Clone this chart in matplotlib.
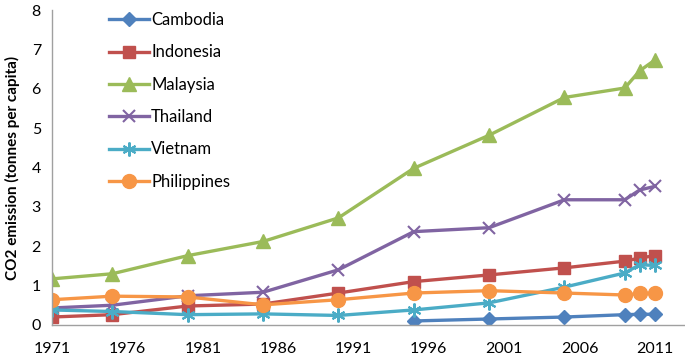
import matplotlib
matplotlib.use("Agg")
import matplotlib.pyplot as plt
import numpy as np

plt.rcParams['font.family'] = ['Lato', 'DejaVu Sans']

years = [1971, 1975, 1980, 1985, 1990, 1995, 2000, 2005, 2009, 2010, 2011]
cambodia_years = [1995, 2000, 2005, 2009, 2010, 2011]
cambodia = [0.10, 0.15, 0.20, 0.26, 0.27, 0.27]
indonesia = [0.20, 0.26, 0.48, 0.53, 0.81, 1.10, 1.27, 1.45, 1.62, 1.70, 1.76]
malaysia = [1.17, 1.30, 1.76, 2.12, 2.72, 3.98, 4.82, 5.78, 6.02, 6.46, 6.73]
thailand = [0.43, 0.50, 0.74, 0.83, 1.40, 2.37, 2.47, 3.18, 3.18, 3.43, 3.52]
vietnam = [0.38, 0.34, 0.26, 0.28, 0.24, 0.38, 0.56, 0.96, 1.32, 1.53, 1.51]
philippines = [0.64, 0.73, 0.71, 0.51, 0.64, 0.81, 0.87, 0.81, 0.76, 0.80, 0.80]

xticks = [1971, 1976, 1981, 1986, 1991, 1996, 2001, 2006, 2011]
yticks = [0, 1, 2, 3, 4, 5, 6, 7, 8]

fig = plt.figure(figsize=(6.85, 3.61), dpi=100)
ax = fig.add_axes([0.076, 0.1, 0.924, 0.872])

lw = 2.4
ax.plot(cambodia_years, cambodia, color='#4F81BD', lw=lw, marker='D', ms=7.5, label='Cambodia')
ax.plot(years, indonesia, color='#C0504D', lw=lw, marker='s', ms=8.5, label='Indonesia')
ax.plot(years, malaysia, color='#9BBB59', lw=lw, marker='^', ms=10, label='Malaysia')
ax.plot(years, thailand, color='#8064A2', lw=lw, marker='x', ms=9, mew=1.5, label='Thailand')
ax.plot(years, vietnam, color='#4BACC6', lw=lw, marker=(6, 2, 0), ms=10, mew=1.5, label='Vietnam')
ax.plot(years, philippines, color='#F79646', lw=lw, marker='o', ms=10, label='Philippines')

ax.set_xlim(1971, 2013)
ax.set_ylim(0, 8)
ax.set_xticks(xticks)
ax.set_yticks(yticks)
ax.tick_params(axis='both', length=0, labelsize=11.5, colors='#000000')
ax.tick_params(axis='x', pad=12)
ax.tick_params(axis='y', pad=8)
for s in ['top', 'right']:
    ax.spines[s].set_visible(False)
for s in ['left', 'bottom']:
    ax.spines[s].set_color('#A0A0A0')
    ax.spines[s].set_linewidth(1.0)

ax.set_ylabel('CO2 emission (tonnes per capita)', fontsize=11, fontweight='bold', labelpad=8)

leg = ax.legend(loc='upper left', bbox_to_anchor=(0.08, 1.015), frameon=False,
                fontsize=12, handlelength=2.4, handletextpad=0.1, labelspacing=0.98,
                borderaxespad=0.0)

fig.savefig('out.png', dpi=100)
